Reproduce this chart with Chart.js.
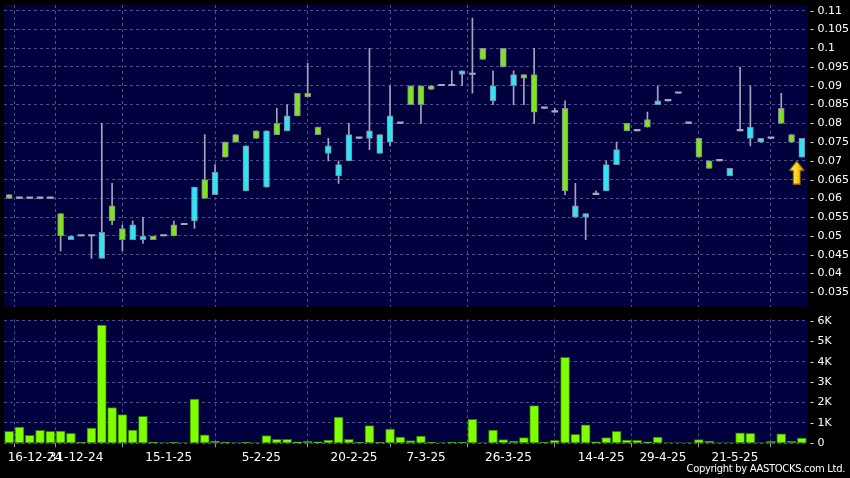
<!DOCTYPE html>
<html>
<head>
<meta charset="utf-8">
<script src="https://cdn.jsdelivr.net/npm/chart.js@4.4.0/dist/chart.umd.min.js"></script>
<style>
  html, body { margin: 0; padding: 0; background: #000; }
  #wrap { position: relative; width: 850px; height: 478px; background: #000; overflow: hidden; }
  #priceBox { position: absolute; left: 0; top: 0; width: 850px; height: 312px; }
  #volBox { position: absolute; left: 0; top: 312px; width: 850px; height: 166px; }
  #copy { position: absolute; right: 5px; top: 463px; color: #fff; font: 10px "DejaVu Sans"; letter-spacing: -0.33px; white-space: nowrap; }
</style>
</head>
<body>
<div id="wrap">
  <div id="priceBox"><canvas id="priceChart"></canvas></div>
  <div id="volBox"><canvas id="volChart"></canvas></div>
  <div id="copy">Copyright by AASTOCKS.com Ltd.</div>
</div>
<script>
// daily OHLC
const opens = [0.061,0.060,0.060,0.060,0.060,0.056,0.049,0.050,0.050,0.044,
  0.058,0.052,0.049,0.049,0.050,0.050,0.053,0.053,0.054,0.065,
  0.061,0.075,0.077,0.062,0.078,0.063,0.080,0.078,0.088,0.088,
  0.079,0.072,0.066,0.070,0.076,0.076,0.072,0.075,0.080,0.090,
  0.090,0.090,0.090,0.090,0.093,0.093,0.100,0.086,0.100,0.090,
  0.093,0.093,0.084,0.083,0.084,0.055,0.055,0.061,0.062,0.069,
  0.080,0.078,0.081,0.085,0.086,0.088,0.080,0.076,0.070,0.070,
  0.066,0.078,0.076,0.075,0.076,0.084,0.077,0.071];
const highs = [0.061,0.060,0.060,0.060,0.060,0.056,0.050,0.050,0.050,0.080,
  0.064,0.053,0.054,0.055,0.050,0.050,0.054,0.053,0.063,0.077,
  0.069,0.075,0.077,0.074,0.078,0.078,0.084,0.085,0.088,0.096,
  0.079,0.076,0.070,0.080,0.076,0.100,0.077,0.090,0.080,0.090,
  0.090,0.090,0.090,0.094,0.094,0.108,0.100,0.094,0.100,0.094,
  0.093,0.100,0.084,0.084,0.086,0.064,0.056,0.062,0.070,0.075,
  0.080,0.078,0.083,0.090,0.086,0.088,0.080,0.076,0.070,0.070,
  0.068,0.095,0.090,0.076,0.076,0.088,0.077,0.076];
const lows = [0.060,0.060,0.060,0.060,0.060,0.046,0.049,0.050,0.044,0.044,
  0.053,0.046,0.049,0.048,0.049,0.050,0.050,0.053,0.052,0.060,
  0.061,0.071,0.075,0.062,0.076,0.063,0.077,0.078,0.082,0.087,
  0.077,0.070,0.064,0.070,0.076,0.073,0.072,0.074,0.080,0.085,
  0.080,0.089,0.090,0.090,0.090,0.088,0.097,0.085,0.095,0.085,
  0.085,0.080,0.084,0.083,0.061,0.055,0.049,0.061,0.062,0.069,
  0.078,0.078,0.079,0.085,0.086,0.088,0.080,0.071,0.068,0.070,
  0.066,0.078,0.074,0.075,0.076,0.080,0.075,0.071];
const closes = [0.060,0.060,0.060,0.060,0.060,0.050,0.050,0.050,0.050,0.051,
  0.054,0.049,0.053,0.050,0.049,0.050,0.050,0.053,0.063,0.060,
  0.067,0.071,0.075,0.074,0.076,0.078,0.077,0.082,0.082,0.087,
  0.077,0.074,0.069,0.077,0.076,0.078,0.077,0.082,0.080,0.085,
  0.085,0.089,0.090,0.090,0.094,0.093,0.097,0.090,0.095,0.093,
  0.092,0.083,0.084,0.083,0.062,0.058,0.056,0.061,0.069,0.073,
  0.078,0.078,0.079,0.086,0.086,0.088,0.080,0.071,0.068,0.070,
  0.068,0.078,0.079,0.076,0.076,0.080,0.075,0.076];
const volumes = [590,800,390,640,590,600,490,50,750,5800,
  1750,1410,650,1320,50,20,50,20,2170,420,
  110,50,20,50,20,380,200,200,70,100,
  70,160,1290,200,50,870,50,700,310,130,
  360,50,20,50,50,1180,10,650,180,110,
  280,1850,50,150,4220,440,900,70,280,590,
  160,150,70,310,20,20,20,180,110,20,
  20,510,490,20,100,460,100,260];

// date labels and the bar each one starts at
const dateLabels = ['16-12-24','31-12-24','15-1-25','5-2-25','20-2-25','7-3-25','26-3-25','14-4-25','29-4-25','21-5-25'];
const dateBars = [3,7,16,25,34,41,49,58,64,71];
const priceTicks = [0.035,0.04,0.045,0.05,0.055,0.06,0.065,0.07,0.075,0.08,0.085,0.09,0.095,0.1,0.105,0.11];
const volTicks = [0,1000,2000,3000,4000,5000,6000];
const volTickLabels = ['0','1K','2K','3K','4K','5K','6K'];
const lastMark = {x: 76.5, y: 0.0669};

const GREEN = '#80e31f';
const CYAN = '#2fe4f4';
const DOJI = '#a8a8bc';
const GRID = '#4e4e8c';
const FONT = 'DejaVu Sans';

const idx = opens.map((v, i) => i);
const isDoji = i => opens[i] === closes[i];
const bodyColor = i => closes[i] > opens[i] ? CYAN : (closes[i] < opens[i] ? GREEN : DOJI);

const bgPlugin = {
  id: 'bg',
  beforeDraw(chart) {
    const {ctx, chartArea: a} = chart;
    ctx.save();
    ctx.fillStyle = '#000';
    ctx.fillRect(0, 0, chart.width, chart.height);
    ctx.fillStyle = '#00003e';
    ctx.fillRect(a.left, a.top, a.right - a.left, a.bottom - a.top);
    ctx.restore();
  }
};

function makeArrow() {
  const c = document.createElement('canvas');
  c.width = 16; c.height = 24;
  const g = c.getContext('2d');
  const grad = g.createLinearGradient(0, 0, 16, 0);
  grad.addColorStop(0, '#fff07a');
  grad.addColorStop(0.5, '#ffd21a');
  grad.addColorStop(1, '#d89400');
  g.fillStyle = grad;
  g.strokeStyle = '#8a5c00';
  g.lineWidth = 1;
  g.beginPath();
  g.moveTo(8, 0.5);
  g.lineTo(15.5, 10);
  g.lineTo(11.5, 10);
  g.lineTo(11.5, 23.5);
  g.lineTo(4.5, 23.5);
  g.lineTo(4.5, 10);
  g.lineTo(0.5, 10);
  g.closePath();
  g.fill();
  g.stroke();
  return c;
}

const xGridTicks = s => { s.ticks = dateBars.map(b => ({value: b - 0.5})); };
const noPad = s => { s.paddingLeft = 0; s.paddingRight = 0; s.paddingTop = 0; s.paddingBottom = 0; };

var priceChart = new Chart(document.getElementById('priceChart'), {
  type: 'bar',
  data: {
    datasets: [
      {
        label: 'body',
        data: idx.map(i => ({x: i, y: [opens[i], closes[i]]})),
        backgroundColor: ctx => bodyColor(ctx.dataIndex),
        borderColor: ctx => isDoji(ctx.dataIndex) ? DOJI : '#85859a',
        borderWidth: ctx => isDoji(ctx.dataIndex) ? 0 : 1,
        borderSkipped: false,
        barThickness: 6,
        minBarLength: 1.5,
        grouped: false,
      },
      {
        label: 'wick',
        data: idx.map(i => ({x: i, y: [lows[i], highs[i]]})),
        backgroundColor: '#a4a4ba',
        borderWidth: 0,
        barThickness: 1,
        grouped: false,
      },
      {
        type: 'scatter',
        label: 'mark',
        data: [lastMark],
        pointStyle: makeArrow(),
        pointRadius: 12,
      },
    ]
  },
  options: {
    responsive: true,
    maintainAspectRatio: false,
    animation: false,
    layout: { autoPadding: false, padding: { left: 4, top: 5, right: 0, bottom: 5.3 } },
    plugins: { legend: { display: false }, tooltip: { enabled: false } },
    scales: {
      x: {
        type: 'linear',
        offset: false,
        min: -0.5,
        max: 77.5,
        afterBuildTicks: xGridTicks,
        afterFit: s => { s.height = 0; noPad(s); },
        ticks: { display: false },
        grid: { color: GRID, drawTicks: false },
        border: { display: false, dash: [3, 3] },
      },
      y: {
        position: 'right',
        min: 0.03117,
        max: 0.11151,
        afterBuildTicks: s => { s.ticks = priceTicks.map(v => ({value: v})); },
        afterFit: s => { s.width = 43; noPad(s); },
        ticks: {
          color: '#fff',
          font: { family: FONT, size: 11 },
          padding: 3,
          callback: v => '- ' + String(+v.toFixed(3)),
        },
        grid: { color: GRID, drawTicks: false },
        border: { display: false, dash: [3, 3] },
      }
    }
  },
  plugins: [bgPlugin]
});

var volChart = new Chart(document.getElementById('volChart'), {
  type: 'bar',
  data: {
    datasets: [{
      label: 'volume',
      data: idx.map(i => ({x: i, y: volumes[i]})),
      backgroundColor: '#80ff00',
      borderColor: '#2f7a00',
      borderWidth: 1,
      borderSkipped: false,
      barThickness: 9,
    }]
  },
  options: {
    responsive: true,
    maintainAspectRatio: false,
    animation: false,
    layout: { autoPadding: false, padding: { left: 4, top: 7.3, right: 0, bottom: 0 } },
    plugins: { legend: { display: false }, tooltip: { enabled: false } },
    scales: {
      x: {
        type: 'linear',
        offset: false,
        min: -0.5,
        max: 77.5,
        afterBuildTicks: xGridTicks,
        afterFit: s => { s.height = 34.7; noPad(s); },
        ticks: {
          color: '#fff',
          font: { family: FONT, size: 12 },
          padding: 3,
          autoSkip: false,
          maxRotation: 0,
          callback: (v, i) => dateLabels[i],
        },
        grid: { color: GRID, tickColor: '#9a9a9a', tickLength: 4 },
        border: { display: false, dash: [3, 3] },
      },
      y: {
        position: 'right',
        min: 0,
        max: 6083,
        afterBuildTicks: s => { s.ticks = volTicks.map(v => ({value: v})); },
        afterFit: s => { s.width = 43; noPad(s); },
        ticks: {
          color: '#fff',
          font: { family: FONT, size: 11 },
          padding: 3,
          callback: (v, i) => '- ' + volTickLabels[i],
        },
        grid: { color: GRID, drawTicks: false },
        border: { display: false, dash: [3, 3] },
      }
    }
  },
  plugins: [bgPlugin]
});
</script>
</body>
</html>
